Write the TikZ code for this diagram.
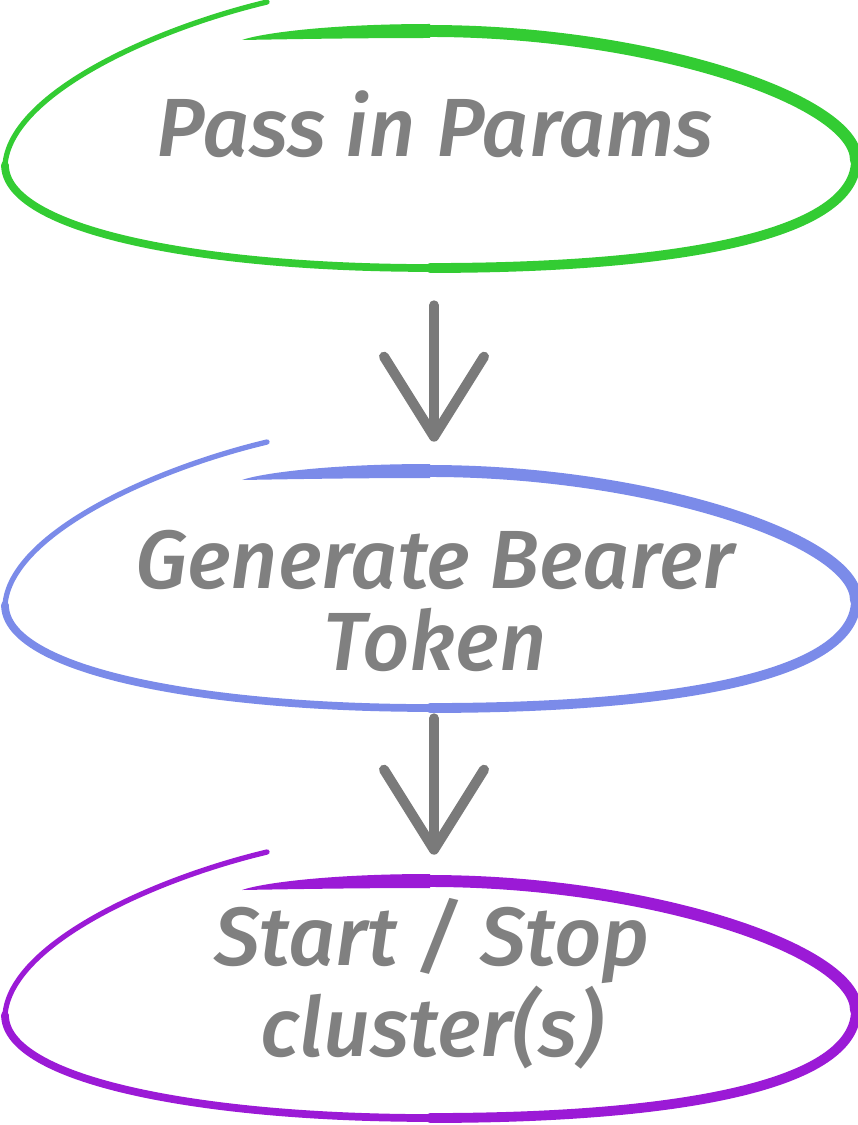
\documentclass[tikz,border=0pt]{standalone}
\usepackage{fontspec}
\setmainfont{Fira Sans}[BoldItalicFont={Fira Sans Medium Italic}]
\usetikzlibrary{shapes.geometric,arrows.meta}
\definecolor{loopgreen}{HTML}{33CC33}
\definecolor{loopblue}{HTML}{7B8BE9}
\definecolor{looppurple}{HTML}{9B1AD6}
\definecolor{textgray}{HTML}{808080}
\definecolor{arrowgray}{HTML}{7A7A7A}
\tikzset{
  ring/.style={ellipse,minimum width=17cm,minimum height=4.76cm,inner sep=0pt},
  boxtext/.style={text=textgray,font=\fontsize{47}{47}\selectfont\bfseries\itshape,align=center,inner sep=0pt},
  flow/.style={line width=5.7pt,arrowgray,line cap=round,-{Straight Barb[round,length=1.6cm,width=2cm]}}
}
\newcommand{\sketchloop}[2]{%
  \begin{scope}[shift={(0,#2)},color=#1,line cap=round]
    \draw[line width=3pt] (267,2) .. controls (150,30) and (10,95) .. (5,165);
    \draw[line width=4.4pt] (5,165) .. controls (5,230) and (200,268) .. (430,268);
    \draw[line width=5.6pt] (430,268) .. controls (680,268) and (856,235) .. (856,160);
    \draw[line width=6.8pt] (856,160) .. controls (856,100) and (650,31) .. (430,31);
    \fill (430,24) .. controls (330,24) and (262,33) .. (242,40) .. controls (300,39) and (360,38) .. (430,38) -- cycle;
  \end{scope}}
\begin{document}
\begin{tikzpicture}[x=0.02cm,y=-0.02cm]
    \useasboundingbox (0,0) rectangle (858,1125);
    \sketchloop{loopgreen}{0}
    \sketchloop{loopblue}{440}
    \sketchloop{looppurple}{850}
    \node[ring] (pass) at (434,150) {};
    \node[ring] (token) at (434,590) {};
    \node[ring] (cluster) at (434,1000) {};
    \node[boxtext,anchor=base] (passtext) at (435,157) {Pass in Params};
    \node[boxtext] (tokentext) at (435,601) {Generate Bearer\\Token};
    \node[boxtext] (clustertext) at (432,984) {Start / Stop\\cluster(s)};
    \draw[flow,shorten <=0.72cm,shorten >=0.58cm] (pass) -- (token);
    \draw[flow,shorten <=0.18cm,shorten >=0.52cm] (token) -- (cluster);
\end{tikzpicture}
\end{document}
